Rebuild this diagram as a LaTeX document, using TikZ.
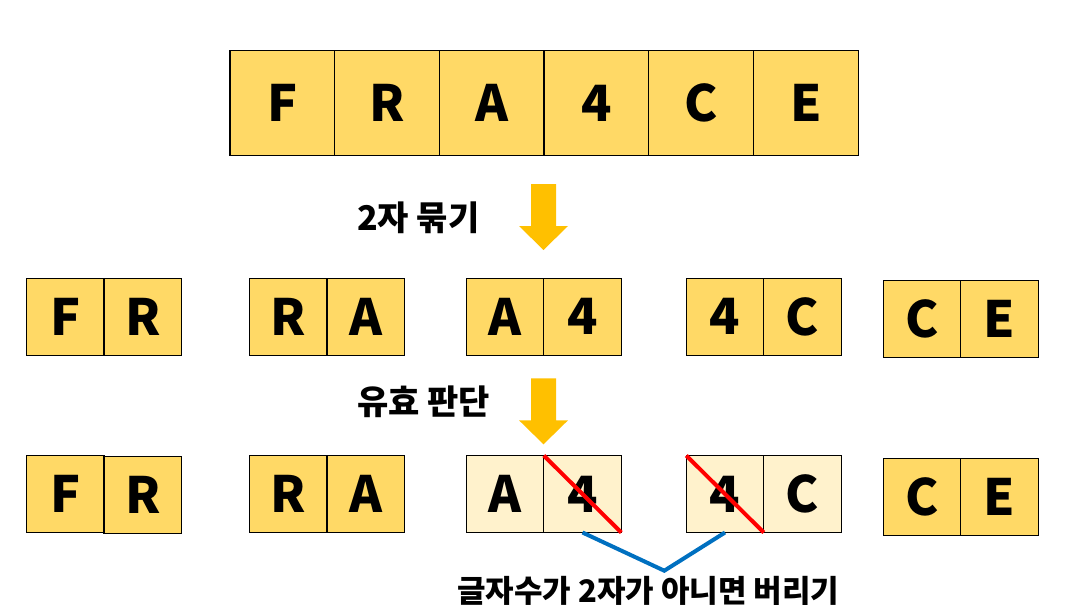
\documentclass[tikz,border=0pt]{standalone}
\usepackage{fontspec}
\setmainfont{Noto Sans CJK KR}
\usepackage{tikz}
\tikzset{>=latex}
\usetikzlibrary{calc}
\usetikzlibrary{positioning}
\definecolor{mygold}{HTML}{FFD966}
\definecolor{mycream}{HTML}{FFF2CC}
\definecolor{myamber}{HTML}{FFC000}
\definecolor{myred}{HTML}{FF0000}
\definecolor{myblue}{HTML}{0070C0}
\tikzset{
	cell/.style={draw=black,line width=1.2pt,fill=mygold,inner sep=0pt,outer sep=0pt,
		minimum width=77.5pt,minimum height=77pt,font=\bfseries\fontsize{50}{50}\selectfont},
	bigcell/.style={cell,minimum width=104.7pt,minimum height=105pt},
	dropcell/.style={cell,fill=mycream},
	steplabel/.style={anchor=west,inner sep=0pt,font=\bfseries\fontsize{34}{34}\selectfont},
	notelabel/.style={inner sep=0pt,font=\bfseries\fontsize{31}{31}\selectfont},
	strike/.style={myred,line width=4pt},
	bracket/.style={myblue,line width=4pt},
	downarrow/.pic={\fill[myamber] (-12.5,0) -- (12.5,0) -- (12.5,42) -- (24.5,42) -- (0,66) -- (-24.5,42) -- (-12.5,42) -- cycle;}
}
\begin{document}
\begin{tikzpicture}[x=1pt,y=-1pt]
		\useasboundingbox (0,0) rectangle (1076,613);

		% whole string
		\node[bigcell] (t1) at (282.3,103) {F};
		\node[bigcell,right=0pt of t1] (t2) {R};
		\node[bigcell,right=0pt of t2] (t3) {A};
		\node[bigcell,right=0pt of t3] (t4) {4};
		\node[bigcell,right=0pt of t4] (t5) {C};
		\node[bigcell,right=0pt of t5] (t6) {E};

		\pic at (543.5,184) {downarrow};
		\node[steplabel] (lbl1) at (357,217.5) {2자 묶기};

		% pairs
		\node[cell] (p1a) at (65.3,316.8) {F};
		\node[cell,right=0pt of p1a] (p1b) {R};
		\node[cell] (p2a) at (288.3,316.8) {R};
		\node[cell,right=0pt of p2a] (p2b) {A};
		\node[cell] (p3a) at (505,316.8) {A};
		\node[cell,right=0pt of p3a] (p3b) {4};
		\node[cell] (p4a) at (725,316.8) {4};
		\node[cell,right=0pt of p4a] (p4b) {C};
		\node[cell] (p5a) at (922,318.8) {C};
		\node[cell,right=0pt of p5a] (p5b) {E};

		\pic at (543.5,378.3) {downarrow};
		\node[steplabel] (lbl2) at (357,402) {유효 판단};

		% after the check
		\node[cell] (q1a) at (65.3,494) {F};
		\node[cell,right=0pt of q1a,yshift=-1pt] (q1b) {R};
		\node[cell] (q2a) at (288.3,494) {R};
		\node[cell,right=0pt of q2a] (q2b) {A};
		\node[dropcell] (q3a) at (505,494) {A};
		\node[dropcell,right=0pt of q3a] (q3b) {4};
		\node[dropcell] (q4a) at (725,494) {4};
		\node[dropcell,right=0pt of q4a] (q4b) {C};
		\node[cell] (q5a) at (922,497) {C};
		\node[cell,right=0pt of q5a] (q5b) {E};

		\draw[strike] (q3b.north west) -- (q3b.south east);
		\draw[strike] (q4a.north west) -- (q4a.south east);

		\coordinate (tip) at (664.3,570.7);
		\draw[bracket] (q3b.south) -- (tip) -- (q4a.south);
		\node[notelabel] (note) at (648.3,591) {글자수가 2자가 아니면 버리기};
	\end{tikzpicture}
\end{document}
